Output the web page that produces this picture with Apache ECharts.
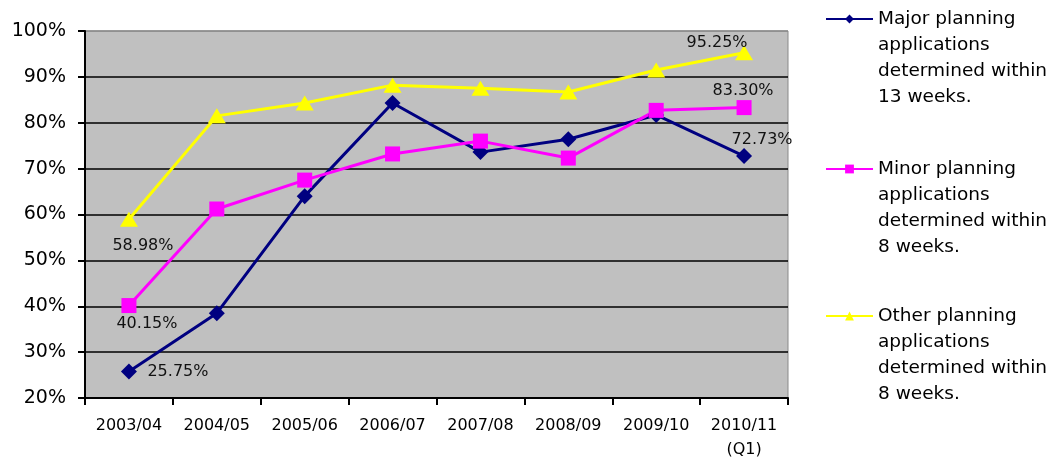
<!DOCTYPE html>
<html>
<head>
<meta charset="utf-8">
<script src="https://cdn.jsdelivr.net/npm/echarts@6/dist/echarts.min.js"></script>
<style>
  html, body { margin: 0; padding: 0; background: #fff; }
  #chart { width: 1052px; height: 458px; }
</style>
</head>
<body>
<div id="chart"></div>
<script>
// Planning application performance, share determined within target time
const categories = ['2003/04', '2004/05', '2005/06', '2006/07', '2007/08', '2008/09', '2009/10', '2010/11\n(Q1)'];

const majorValues = [25.75, 38.5, 64.0, 84.3, 73.6, 76.4, 81.7, 72.73];
const minorValues = [40.15, 61.2, 67.5, 73.2, 76.0, 72.3, 82.7, 83.30];
const otherValues = [58.98, 81.5, 84.3, 88.2, 87.5, 86.7, 91.5, 95.25];

const seriesNames = [
  'Major planning\napplications\ndetermined within\n13 weeks.',
  'Minor planning\napplications\ndetermined within\n8 weeks.',
  'Other planning\napplications\ndetermined within\n8 weeks.'
];

const yTicks = { min: 20, max: 100, interval: 10 };

// Which points carry a value label, and where it sits relative to the point
const labelled = {
  major: { 0: [49, 0], 7: [18, -16] },
  minor: { 0: [18, 18], 7: [-1, -17] },
  other: { 0: [14, 27], 7: [-27, -10] }
};

const FONT = 'DejaVu Sans';
const LEGEND_LINE = 26;

function withLabels(values, marks) {
  return values.map((v, i) => {
    if (!(i in marks)) return v;
    return {
      value: v,
      label: {
        show: true,
        position: 'inside',
        offset: marks[i],
        align: 'center',
        verticalAlign: 'middle',
        formatter: (p) => p.value.toFixed(2) + '%',
        fontFamily: FONT,
        fontSize: 16,
        color: '#111'
      }
    };
  });
}

// Each legend entry keeps its key beside the first line of a four-line name:
// three empty lines above the name balance the block around the key.
function legendFor(name, keyCenterY) {
  return {
    orient: 'vertical',
    left: 825,
    top: keyCenterY - 3.5 * LEGEND_LINE,
    padding: 0,
    itemWidth: 47,
    itemHeight: 11,
    itemGap: 5,
    selectedMode: false,
    data: [name],
    formatter: (n) => '\n\n\n' + n,
    textStyle: {
      fontFamily: FONT,
      fontSize: 18.5,
      lineHeight: LEGEND_LINE,
      color: '#000'
    }
  };
}

const chart = echarts.init(document.getElementById('chart'), null, { renderer: 'canvas' });

chart.setOption({
  animation: false,
  backgroundColor: '#fff',
  grid: {
    left: 85, right: 264, top: 31, bottom: 60,
    outerBoundsMode: 'none',
    containLabel: false,
    show: true,
    backgroundColor: '#c0c0c0',
    borderColor: '#8a8a8a',
    borderWidth: 1
  },
  legend: [
    legendFor(seriesNames[0], 19),
    legendFor(seriesNames[1], 169),
    legendFor(seriesNames[2], 316)
  ],
  xAxis: {
    type: 'category',
    data: categories,
    boundaryGap: true,
    axisLine: { lineStyle: { color: '#000', width: 2 } },
    axisTick: { show: true, length: 7, interval: 0, lineStyle: { color: '#000', width: 2 } },
    axisLabel: {
      interval: 0,
      margin: 16,
      fontFamily: FONT,
      fontSize: 16,
      lineHeight: 24,
      color: '#000'
    },
    splitLine: { show: false }
  },
  yAxis: {
    type: 'value',
    min: yTicks.min,
    max: yTicks.max,
    interval: yTicks.interval,
    axisLine: { show: true, lineStyle: { color: '#000', width: 2 } },
    axisTick: { show: true, length: 7, lineStyle: { color: '#000', width: 2 } },
    axisLabel: {
      margin: 19,
      fontFamily: FONT,
      fontSize: 19,
      color: '#000',
      formatter: '{value}%'
    },
    splitLine: {
      show: true,
      lineStyle: {
        color: ['#000', '#000', '#000', '#000', '#000', '#000', '#000', '#000', '#8a8a8a'],
        width: 1.5
      }
    }
  },
  series: [
    {
      name: seriesNames[0],
      type: 'line',
      data: withLabels(majorValues, labelled.major),
      symbol: 'diamond',
      symbolSize: 16,
      color: '#000080',
      lineStyle: { color: '#000080', width: 3 },
      itemStyle: { color: '#000080' }
    },
    {
      name: seriesNames[1],
      type: 'line',
      data: withLabels(minorValues, labelled.minor),
      symbol: 'rect',
      symbolSize: 15,
      color: '#ff00ff',
      lineStyle: { color: '#ff00ff', width: 3 },
      itemStyle: { color: '#ff00ff' }
    },
    {
      name: seriesNames[2],
      type: 'line',
      data: withLabels(otherValues, labelled.other),
      symbol: 'triangle',
      symbolSize: [18, 15],
      color: '#ffff00',
      lineStyle: { color: '#ffff00', width: 3 },
      itemStyle: { color: '#ffff00' }
    }
  ]
});
</script>
</body>
</html>
